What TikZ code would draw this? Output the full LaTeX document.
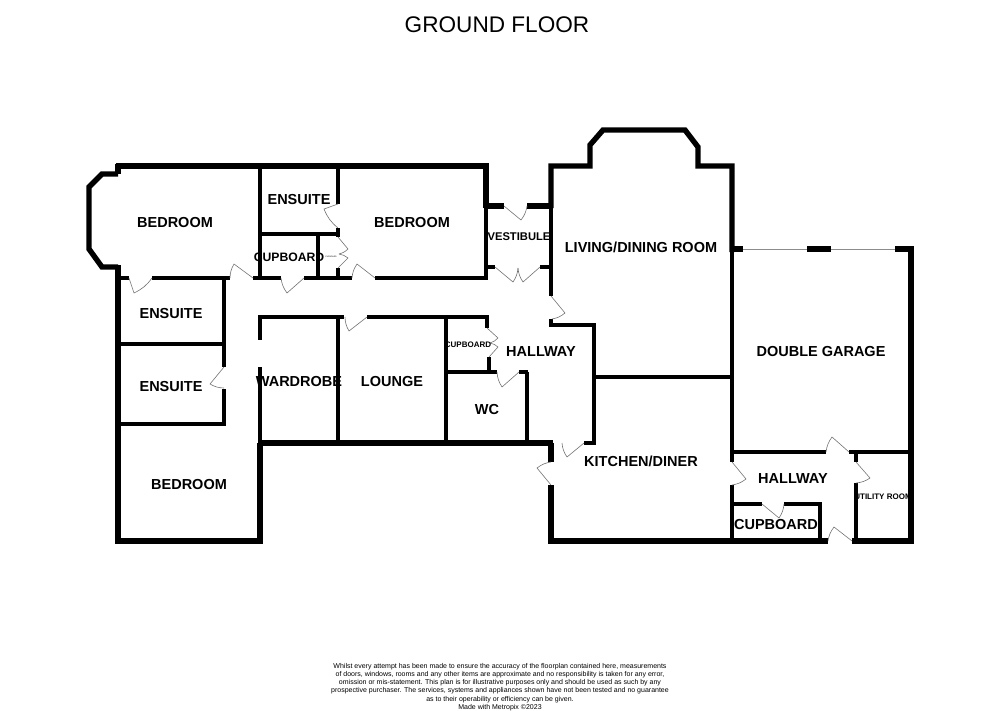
\documentclass[tikz,border=0pt]{standalone}
\usepackage{fontspec}
\setmainfont{Liberation Sans}
\tikzset{
  wall/.style={line width=5.4pt,line cap=butt,line join=miter},
  partition/.style={line width=3.8pt,line cap=butt,line join=miter},
  doorleaf/.style={line width=0.6pt,draw=black!55},
  glazing/.style={line width=0.8pt,draw=black!45},
  room/.style={font=\bfseries\fontsize{14.5}{16}\selectfont,inner sep=0pt},
  smallroom/.style={font=\bfseries\fontsize{8}{9}\selectfont,inner sep=0pt},
}
\begin{document}
\begin{tikzpicture}[x=1pt,y=-1pt]
\useasboundingbox (0,0) rectangle (1000,710);
% outer walls
\draw[wall] (118,174) -- (102,174) -- (89,187) -- (89,249) -- (102,267) -- (118,267);
\draw[wall] (115.5,166) -- (486,166) -- (486,208);
\draw[wall] (118,164) -- (118,174);
\draw[wall] (118,265) -- (118,541) -- (260,541) -- (260,443);
\draw[wall] (258,443) -- (553,443);
\draw[wall] (551,208) -- (551,166) -- (590,166) -- (590,145) -- (603,130) -- (685,130) -- (698,147) -- (698,166) -- (732,166) -- (732,252);
\draw[wall] (551,485) -- (551,541) -- (828,541);
\draw[wall] (852,541) -- (911,541) -- (911,249) -- (895,249);
\foreach \xa/\ya/\xb/\yb in {486/206/504/206,527/206/551/206,551/443/551/462,732/249/743/249,807/249/831/249} {
  \draw[wall] (\xa,\ya) -- (\xb,\yb);
}
% inner walls
\foreach \xa/\ya/\xb/\yb in {118/278/129/278,152/278/230/278,253/278/281/278,304/278/352/278,375/278/488/278,
  260/166/260/278,338/166/338/204,338/228/338/237,260/234/338/234,318/234/318/278,338/268/338/278,
  486/206/486/278,486/267/495/267,540/267/551/267,551/206/551/296,
  224/278/224/367,224/389/224/426,118/344/224/344,118/424/224/424,
  258/317/344/317,367/317/489/317,260/317/260/340,260/367/260/443,338/317/338/443,446/317/446/443,
  487/317/487/328,489/357/489/372,446/372/497/372,519/372/528/372,527/372/527/443,
  551/319/551/325,549/325/596/325,594/325/594/445,584/443/596/443,594/377/732/377,
  732/250/732/462,732/485/732/541,732/452/826/452,849/452/911/452,856/452/856/462,856/483/856/541,
  732/504/762/504,784/504/822/504,820/504/820/541} {
  \draw[partition] (\xa,\ya) -- (\xb,\yb);
}
% doors: hinge, tip of leaf, end of swing
\foreach \hx/\hy/\tx/\ty/\ex/\ey in {504/206/521/220/527/206,495/267/513/282/518/268,540/267/523/282/518/268,
  551/296/565/313/552/319,129/278/134/293/152/278,253/278/234/264/230/278,304/278/287/293/281/278,
  375/278/357/264/352/278,338/204/324/209/338/228,338/237/348/249/339/254,338/268/348/258/339/254,
  224/367/210/384/224/388,367/317/349/331/345/317,487/328/498/338/490/343,489/357/498/347/490/343,
  519/372/502/387/497/372,584/443/567/457/562/443,551/485/537/468/551/462,
  849/452/832/437/826/452,856/462/870/478/856/483,852/541/834/527/828/541,
  732/462/746/479/732/485,762/504/779/518/784/504} {
  \pgfmathsetmacro\bendang{-14*sign((\ey-\ty)*(\hx-\tx)-(\ex-\tx)*(\hy-\ty))}
  \draw[doorleaf] (\hx,\hy) -- (\tx,\ty) to[bend left=\bendang] (\ex,\ey);
}
% garage door
\foreach \xa/\xb in {743/807,831/895} {
  \draw[glazing] (\xa,249) -- (\xb,249);
}
% labels
\node[font=\fontsize{22.6}{25}\selectfont,inner sep=0pt] (title) at (497,25) {GROUND FLOOR};
\foreach \nm/\x/\y/\t in {bedA/175/223/BEDROOM,ensA/299/200/ENSUITE,bedB/412/223/BEDROOM,
  livA/641/247/LIVING\slash DINING ROOM,garA/821/351/DOUBLE GARAGE,ensB/171/313/ENSUITE,
  halA/541/352/HALLWAY,ensC/171/386/ENSUITE,warA/299/381/WARDROBE,louA/392/381/LOUNGE,
  wcA/487/409/WC,bedC/189/484/BEDROOM,kitA/641/461/KITCHEN\slash DINER,halB/793/479/HALLWAY,
  cupA/776/524/CUPBOARD} {
  \node[room] (\nm) at (\x,\y) {\t};
}
\node[room,font=\bfseries\fontsize{12.2}{14}\selectfont] (cupB) at (289,257) {CUPBOARD};
\node[room,font=\bfseries\fontsize{11.2}{13}\selectfont] (vesA) at (519,237) {VESTIBULE};
\node[smallroom] (cupC) at (468,345) {CUPBOARD};
\node[smallroom] (utiA) at (883,497) {UTILITY ROOM};
\node[room,font=\fontsize{2}{3}\selectfont] (cupD) at (331,257) {CUPBOARD};
\node[align=center,inner sep=0pt,font=\fontsize{7}{8.2}\selectfont] (note) at (500,687) {Whilst every attempt has been made to ensure the accuracy of the floorplan contained here, measurements\\
of doors, windows, rooms and any other items are approximate and no responsibility is taken for any error,\\
omission or mis-statement. This plan is for illustrative purposes only and should be used as such by any\\
prospective purchaser. The services, systems and appliances shown have not been tested and no guarantee\\
as to their operability or efficiency can be given.\\
Made with Metropix ©2023};
\end{tikzpicture}
\end{document}
